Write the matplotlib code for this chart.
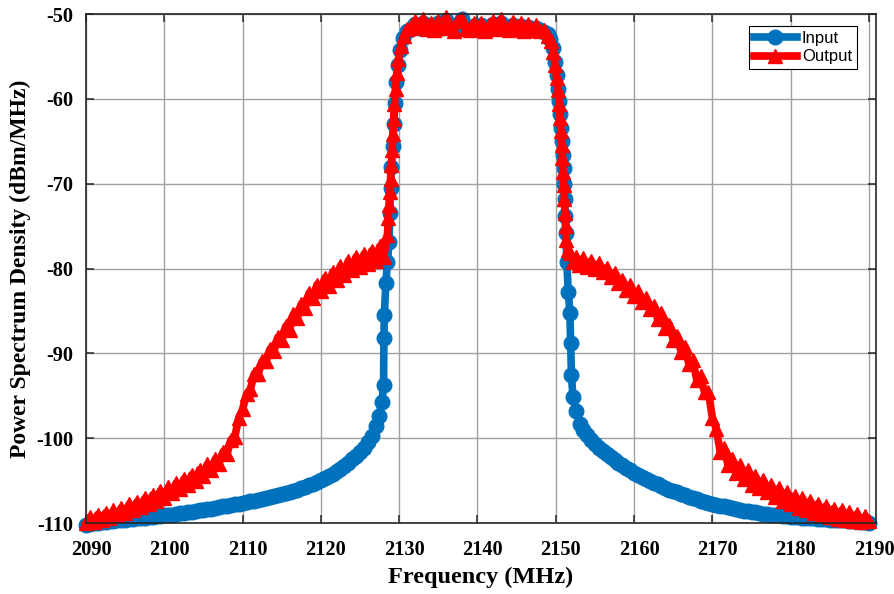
import matplotlib
matplotlib.use("Agg")
import matplotlib.pyplot as plt
from matplotlib.transforms import ScaledTranslation

plt.rcParams["axes.unicode_minus"] = False

# ---------------- data ----------------
input_freq = [2090, 2090.5, 2091, 2091.5, 2092, 2092.5, 2093, 2093.5, 2094, 2094.5, 2095,
              2095.5, 2096, 2096.5, 2097, 2097.5, 2098, 2098.5, 2099, 2099.5, 2100, 2100.5,
              2101, 2101.5, 2102, 2102.5, 2103, 2103.5, 2104, 2104.5, 2105, 2105.5, 2106,
              2106.5, 2107, 2107.5, 2108, 2108.5, 2109, 2109.5, 2110, 2110.5, 2111, 2111.5,
              2112, 2112.5, 2113, 2113.5, 2114, 2114.5, 2115, 2115.5, 2116, 2116.5, 2117,
              2117.5, 2118, 2118.5, 2119, 2119.5, 2120, 2120.5, 2121, 2121.5, 2122, 2122.5,
              2123, 2123.5, 2124, 2124.5, 2125, 2125.5, 2126, 2126.5, 2127, 2127.4,
              2127.8, 2128.0, 2128.05, 2128.1, 2128.3, 2128.5, 2128.7,
              2128.8, 2128.9, 2129.0, 2129.15, 2129.3, 2129.45, 2129.6, 2129.8, 2130.1,
              2130.5, 2131.0,
              2131.5, 2132, 2132.5, 2133, 2133.5, 2134, 2134.5, 2135, 2135.5, 2136, 2136.5,
              2137, 2137.5, 2138, 2138.5, 2139, 2139.5, 2140, 2140.5, 2141, 2141.5, 2142,
              2142.5, 2143, 2143.5, 2144, 2144.5, 2145, 2145.5, 2146, 2146.5, 2147, 2147.5,
              2148, 2148.5, 2149, 2149.3,
              2149.6, 2149.9, 2150.1, 2150.3, 2150.45, 2150.6, 2150.7, 2150.8, 2150.9,
              2151.0, 2151.1, 2151.15, 2151.2, 2151.3, 2151.4, 2151.6, 2151.8, 2151.9,
              2152.0, 2152.2, 2152.6, 2153.1, 2153.5, 2154, 2154.5, 2155, 2155.5, 2156,
              2156.5, 2157, 2157.5, 2158, 2158.5, 2159, 2159.5, 2160, 2160.5, 2161, 2161.5,
              2162, 2162.5, 2163, 2163.5, 2164, 2164.5, 2165, 2165.5, 2166, 2166.5, 2167,
              2167.5, 2168, 2168.5, 2169, 2169.5, 2170, 2170.5, 2171, 2171.5, 2172, 2172.5,
              2173, 2173.5, 2174, 2174.5, 2175, 2175.5, 2176, 2176.5, 2177, 2177.5, 2178,
              2178.5, 2179, 2179.5, 2180, 2180.5, 2181, 2181.5, 2182, 2182.5, 2183, 2183.5,
              2184, 2184.5, 2185, 2185.5, 2186, 2186.5, 2187, 2187.5, 2188, 2188.5, 2189,
              2189.5, 2190]
input_psd = [-110.2, -110.1, -110.0, -110.0, -109.9, -109.9, -109.8, -109.8, -109.7, -109.7,
             -109.6, -109.55, -109.5, -109.45, -109.4, -109.35, -109.3, -109.25, -109.2,
             -109.15, -109.1, -109.05, -109.0, -108.9, -108.85, -108.8, -108.7, -108.65,
             -108.6, -108.5, -108.45, -108.4, -108.3, -108.2, -108.15, -108.05, -108.0,
             -107.9, -107.8, -107.75, -107.65, -107.55, -107.45, -107.35, -107.25, -107.15,
             -107.05, -106.95, -106.85, -106.75, -106.6, -106.5, -106.35, -106.2, -106.05,
             -105.9, -105.75, -105.55, -105.35, -105.15, -104.95, -104.7, -104.45, -104.2,
             -103.9, -103.6, -103.25, -102.9, -102.5, -102.1, -101.65, -101.1, -100.5, -99.7,
             -98.6, -97.4,
             -95.7, -93.7, -88.2, -85.5, -81.7, -79.2, -76.9,
             -73.5, -70.5, -68.0, -65.5, -63.0, -60.5, -58.0, -56.0, -54.2,
             -52.8, -52.0,
             -51.8, -51.2, -51.6, -51.0, -51.5, -51.3, -51.8, -51.1, -51.6, -50.7, -51.4,
             -51.9, -51.2, -50.6, -51.5, -51.8, -51.4, -51.7, -51.3, -51.9, -51.5, -51.2,
             -51.7, -51.0, -51.6, -51.8, -51.3, -51.7, -51.4, -51.9, -51.5, -51.8, -51.6,
             -51.9, -52.1, -52.4, -53.0,
             -54.0, -55.6, -57.2, -58.8, -60.2, -61.8, -63.4, -65.0, -66.6,
             -68.2, -70.0, -71.8, -73.8, -75.8, -79.2, -82.8, -85.2, -88.8,
             -92.6, -95.2, -96.8, -98.3, -99.0, -99.6, -100.2, -100.7, -101.15, -101.55,
             -101.9, -102.25, -102.6, -102.9, -103.2, -103.5, -103.8, -104.05, -104.3,
             -104.55, -104.8, -105.0, -105.25, -105.45, -105.65, -105.85, -106.05, -106.25,
             -106.4, -106.6, -106.75, -106.9, -107.05, -107.2, -107.35, -107.5, -107.6,
             -107.75, -107.85, -107.95, -108.05, -108.15, -108.25, -108.35, -108.45, -108.55,
             -108.6, -108.7, -108.75, -108.8, -108.9, -108.95, -109.0, -109.05, -109.1,
             -109.15, -109.2, -109.25, -109.3, -109.3, -109.35, -109.4, -109.45, -109.45,
             -109.5, -109.55, -109.55, -109.6, -109.65, -109.65, -109.7, -109.7, -109.75,
             -109.8, -109.8, -109.85, -109.9, -109.95]

output_freq = [2090, 2090.5, 2091, 2091.5, 2092, 2092.5, 2093, 2093.5, 2094, 2094.5, 2095,
               2095.5, 2096, 2096.5, 2097, 2097.5, 2098, 2098.5, 2099, 2099.5, 2100, 2100.5,
               2101, 2101.5, 2102, 2102.5, 2103, 2103.5, 2104, 2104.5, 2105, 2105.5, 2106,
               2106.5, 2107, 2107.5, 2108, 2108.5, 2109, 2109.5, 2110, 2110.5, 2111, 2111.5,
               2112, 2112.5, 2113, 2113.5, 2114, 2114.5, 2115, 2115.5, 2116, 2116.5, 2117,
               2117.5, 2118, 2118.5, 2119, 2119.5, 2120, 2120.5, 2121, 2121.5, 2122, 2122.5,
               2123, 2123.5, 2124, 2124.5, 2125, 2125.5, 2126, 2126.5, 2127, 2127.5, 2128,
               2128.5, 2128.6, 2128.7, 2128.8, 2128.9, 2129.0, 2129.1, 2129.2, 2129.3,
               2129.4, 2129.55, 2129.7, 2129.9, 2130.2, 2130.6, 2131.0,
               2131.5, 2132, 2132.5, 2133, 2133.5, 2134, 2134.5, 2135, 2135.5, 2136, 2136.5,
               2137, 2137.5, 2138, 2138.5, 2139, 2139.5, 2140, 2140.5, 2141, 2141.5, 2142,
               2142.5, 2143, 2143.5, 2144, 2144.5, 2145, 2145.5, 2146, 2146.5, 2147, 2147.5,
               2148, 2148.5, 2149,
               2149.4, 2149.7, 2149.9, 2150.1, 2150.3, 2150.45, 2150.55, 2150.65, 2150.75,
               2150.85, 2150.95, 2151.05, 2151.1, 2151.15, 2151.25, 2151.35, 2151.5, 2151.8,
               2152.2, 2152.6, 2153, 2153.5, 2154, 2154.5, 2155, 2155.5, 2156, 2156.5, 2157,
               2157.5, 2158, 2158.5, 2159, 2159.5, 2160, 2160.5, 2161, 2161.5, 2162, 2162.5,
               2163, 2163.5, 2164, 2164.5, 2165, 2165.5, 2166, 2166.5, 2167, 2167.5, 2168,
               2168.5, 2169, 2169.5, 2170, 2170.5, 2171, 2171.5, 2172, 2172.5, 2173, 2173.5,
               2174, 2174.5, 2175, 2175.5, 2176, 2176.5, 2177, 2177.5, 2178, 2178.5, 2179,
               2179.5, 2180, 2180.5, 2181, 2181.5, 2182, 2182.5, 2183, 2183.5, 2184, 2184.5,
               2185, 2185.5, 2186, 2186.5, 2187, 2187.5, 2188, 2188.5, 2189, 2189.5, 2190]
output_psd = [-110.0, -109.3, -109.9, -109.0, -109.6, -108.8, -109.4, -108.5, -109.1, -108.2,
              -108.8, -107.8, -108.5, -107.5, -108.1, -107.1, -107.8, -106.7, -107.4, -106.2,
              -107.0, -105.8, -106.5, -105.3, -106.0, -104.8, -105.5, -104.3, -105.1, -103.7,
              -104.5, -103.1, -103.8, -102.5, -103.0, -101.6, -101.9, -100.2, -99.9, -97.6,
              -96.6, -94.8, -94.2, -92.4, -92.4, -90.9, -90.9, -89.5, -89.7, -88.1, -88.4,
              -86.8, -87.2, -85.4, -85.8, -84.2, -84.6, -82.9, -83.5, -81.9, -82.7, -81.1,
              -82.1, -80.4, -81.4, -79.7, -80.8, -79.1, -80.2, -78.6, -79.8, -78.3, -79.5,
              -77.9, -79.1, -77.4, -78.6,
              -76.0, -74.0, -72.5, -71.0, -69.5, -67.8, -66.0, -64.2, -62.4,
              -60.6, -58.8, -57.0, -55.3, -53.8, -52.6, -51.8,
              -51.6, -50.8, -51.5, -50.6, -51.8, -51.0, -51.9, -50.8, -51.7, -50.3, -51.4,
              -52.0, -50.8, -50.6, -51.8, -51.9, -51.0, -51.8, -51.0, -52.0, -51.3, -50.8,
              -51.8, -50.6, -51.7, -51.9, -50.9, -51.8, -51.0, -52.0, -51.2, -51.9, -51.3,
              -52.0, -51.9, -52.6,
              -53.2, -54.5, -56.0, -57.5, -59.0, -60.6, -62.2, -63.8, -65.4,
              -67.0, -68.6, -70.2, -71.8, -73.4, -75.0, -76.6, -77.8, -78.2,
              -79.2, -78.7, -79.6, -78.8, -79.8, -79.1, -80.1, -79.4, -80.4, -79.9, -81.0,
              -80.5, -81.7, -81.3, -82.5, -81.9, -83.2, -82.7, -84.0, -83.5, -84.8, -84.4,
              -85.9, -85.3, -87.0, -86.6, -88.4, -87.9, -89.8, -89.2, -91.3, -90.8, -93.1,
              -92.7, -94.6, -94.6, -97.6, -98.9, -101.6, -101.2, -103.2, -102.4, -104.1, -103.2,
              -104.8, -103.8, -105.5, -104.5, -105.9, -104.9, -106.4, -105.5, -106.9, -105.9,
              -107.4, -106.4, -107.8, -106.8, -108.2, -107.1, -108.5, -107.4, -108.8, -107.7,
              -109.1, -108.0, -109.3, -108.3, -109.5, -108.5, -109.7, -108.7, -109.8, -108.9,
              -109.9, -109.2, -109.8]

x_ticks = [2090, 2100, 2110, 2120, 2130, 2140, 2150, 2160, 2170, 2180, 2190]
y_ticks = [-110, -100, -90, -80, -70, -60, -50]
series_labels = ["Input", "Output"]

# ---------------- figure ----------------
fig = plt.figure(figsize=(8.94, 5.94), dpi=100)
ax = fig.add_axes([0.0962, 0.1195, 0.8837, 0.8569])

ax.plot(input_freq, input_psd, color="#0072BD", lw=5.5, marker="o", ms=10.5,
        label=series_labels[0], zorder=3, clip_on=False)
ax.plot(output_freq, output_psd, color="#FF0000", lw=5.5, marker="^", ms=9.5,
        label=series_labels[1], zorder=4, clip_on=False)

ax.set_xlim(2090, 2190.9)
ax.set_ylim(-110, -50)
ax.set_xticks(x_ticks)
ax.set_yticks(y_ticks)

ax.grid(True, color="#a0a0a0", lw=1.0)
ax.set_axisbelow(True)

serif = "Liberation Serif"
ax.tick_params(direction="in", length=6, width=1.1, top=True, right=True,
               labelsize=14.7, colors="#262626")
ax.tick_params(axis="x", pad=12)
ax.tick_params(axis="y", pad=9)
for lab in ax.get_xticklabels() + ax.get_yticklabels():
    lab.set_fontfamily(serif)
    lab.set_fontweight("bold")
    lab.set_color("black")
for lab in ax.get_xticklabels():
    lab.set_transform(lab.get_transform() + ScaledTranslation(5 / 100, 0, fig.dpi_scale_trans))

for sp in ax.spines.values():
    sp.set_color("#262626")
    sp.set_linewidth(1.2)
    sp.set_zorder(5)

ax.set_xlabel("Frequency (MHz)", fontfamily=serif, fontweight="bold", fontsize=17.5, labelpad=5)
ax.set_ylabel("Power Spectrum Density (dBm/MHz)", fontfamily=serif, fontweight="bold",
              fontsize=17, labelpad=4)

leg = ax.legend(loc="upper right", bbox_to_anchor=(1 - 19 / 790, 1 - 12 / 509),
                borderaxespad=0, fancybox=False, framealpha=1, edgecolor="black",
                prop={"family": "Liberation Sans", "size": 12}, handlelength=2.6,
                borderpad=0.3, labelspacing=0.2, handletextpad=0.3)
leg.get_frame().set_linewidth(0.8)
leg.set_zorder(6)

fig.savefig("out.png", dpi=100)
